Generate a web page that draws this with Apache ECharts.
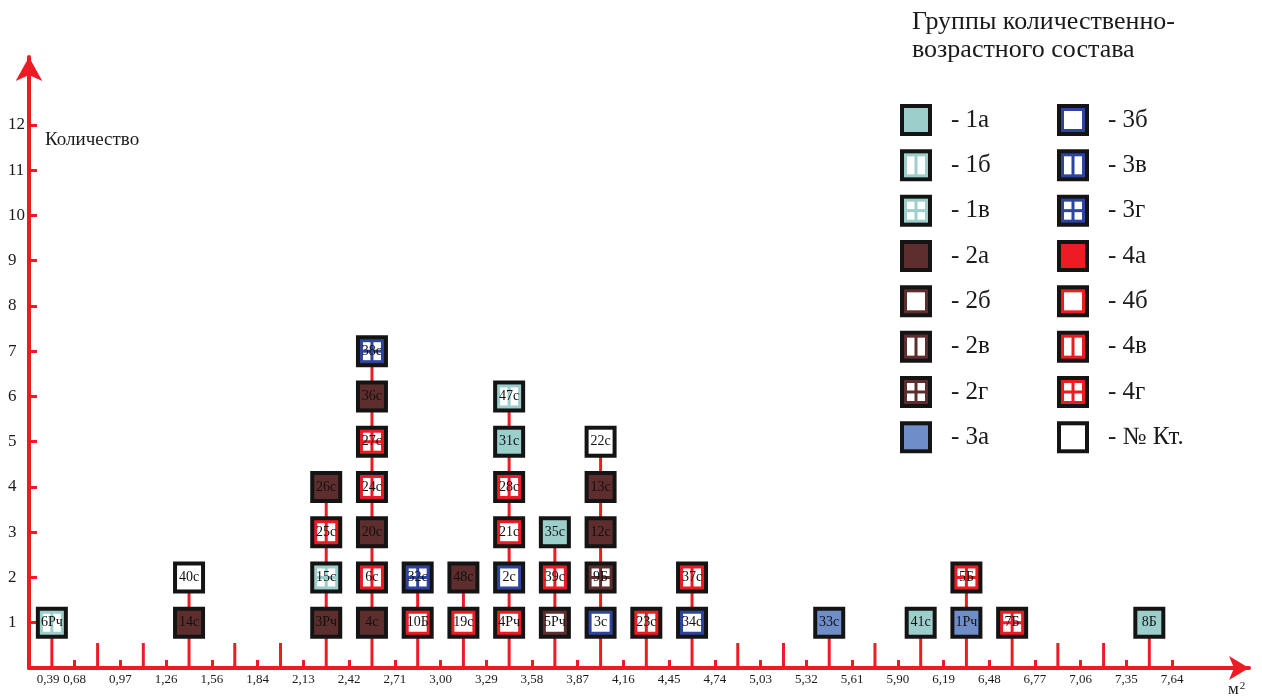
<html style="height: 100%">
<head>
<meta charset="utf-8">
</head>
<body style="height: 100%; margin: 0; background: #fff">
	<div id="container" style="width: 1262px; height: 698px"></div>

	<script src="https://cdn.jsdelivr.net/npm/echarts@6/dist/echarts.min.js"></script>
	<script type="text/javascript">
		var dom = document.getElementById("container");
		var myChart = echarts.init(dom);

		// границы интервалов площади, м2 (подписи оси X)
		var binLabels = ['0,39', '0,68', '0,97', '1,26', '1,56', '1,84', '2,13', '2,42', '2,71',
			'3,00', '3,29', '3,58', '3,87', '4,16', '4,45', '4,74', '5,03', '5,32', '5,61',
			'5,90', '6,19', '6,48', '6,77', '7,06', '7,35', '7,64'];
		// подписи оси Y
		var countTicks = [1, 2, 3, 4, 5, 6, 7, 8, 9, 10, 11, 12];

		// образцы: номер, интервал (индекс), количество, группа
		var sampleNames = ['6Рч',
			'14с', '40с',
			'3Рч', '15с', '25с', '26с',
			'4с', '6с', '20с', '24с', '27с', '36с', '38с',
			'10Б', '32с',
			'19с', '48с',
			'4Рч', '2с', '21с', '28с', '31с', '47с',
			'5Рч', '39с', '35с',
			'3с', '9Б', '12с', '13с', '22с',
			'23с',
			'34с', '37с',
			'33с', '41с', '1Рч', '5Б', '7Б', '8Б'];
		var sampleBins = [0,
			3, 3,
			6, 6, 6, 6,
			7, 7, 7, 7, 7, 7, 7,
			8, 8,
			9, 9,
			10, 10, 10, 10, 10, 10,
			11, 11, 11,
			12, 12, 12, 12, 12,
			13,
			14, 14,
			17, 19, 20, 20, 21, 24];
		var sampleCounts = [1,
			1, 2,
			1, 2, 3, 4,
			1, 2, 3, 4, 5, 6, 7,
			1, 2,
			1, 2,
			1, 2, 3, 4, 5, 6,
			1, 2, 3,
			1, 2, 3, 4, 5,
			1,
			1, 2,
			1, 1, 1, 2, 1, 1];
		var sampleGroups = ['1б',
			'2а', '№ Кт.',
			'2а', '1в', '4в', '2а',
			'2а', '4в', '2а', '4в', '4г', '2а', '3г',
			'4б', '3г',
			'4б', '2а',
			'4б', '3б', '4б', '4в', '1а', '1б',
			'2б', '4в', '1а',
			'3б', '2г', '2а', '2а', '№ Кт.',
			'4в',
			'3б', '4в',
			'3а', '1а', '3а', '4г', '4г', '1а'];

		var legendGroups = ['1а', '1б', '1в', '2а', '2б', '2в', '2г', '3а',
			'3б', '3в', '3г', '4а', '4б', '4в', '4г', '№ Кт.'];

		var RED = '#ed1c24';
		var groupColors = { '1': '#9ccfcb', '2': '#5e2e2e', '3': '#2d45a0', '4': '#ed1c24' };
		var SERIF = '"Liberation Serif", "DejaVu Serif", serif';

		function rect(x, y, w, h, fill) {
			return { type: 'rect', shape: { x: x, y: y, width: w, height: h }, style: { fill: fill } };
		}

		// квадратик с заливкой по группе
		function squareShapes(cx, cy, group) {
			var s = 32, b = 4, f = 3;
			var x0 = cx - s / 2, y0 = cy - s / 2;
			var inner = s - 2 * b;
			var shapes = [rect(x0, y0, s, s, '#141414')];
			if (group === '№ Кт.') {
				shapes.push(rect(x0 + b, y0 + b, inner, inner, '#fff'));
				return shapes;
			}
			var fam = group.charAt(0), kind = group.charAt(1);
			var color = groupColors[fam];
			if (kind === 'а') {
				shapes.push(rect(x0 + b, y0 + b, inner, inner, fam === '3' ? '#6f8ec9' : color));
				return shapes;
			}
			// у первой группы нет варианта с пустой серединой
			var pattern = kind;
			if (fam === '1') pattern = kind === 'б' ? 'в' : 'г';
			shapes.push(rect(x0 + b, y0 + b, inner, inner, color));
			var w = inner - 2 * f;
			var ix = x0 + b + f, iy = y0 + b + f;
			var h = (w - f) / 2;
			if (pattern === 'б') {
				shapes.push(rect(ix, iy, w, w, '#fff'));
			} else if (pattern === 'в') {
				shapes.push(rect(ix, iy, h, w, '#fff'));
				shapes.push(rect(ix + h + f, iy, h, w, '#fff'));
			} else if (pattern === 'г') {
				shapes.push(rect(ix, iy, h, h, '#fff'));
				shapes.push(rect(ix + h + f, iy, h, h, '#fff'));
				shapes.push(rect(ix, iy + h + f, h, h, '#fff'));
				shapes.push(rect(ix + h + f, iy + h + f, h, h, '#fff'));
			}
			return shapes;
		}

		// высота столбика в каждом интервале
		function buildStems() {
			var res = [];
			for (var k = 0; k < binLabels.length - 1; k++) {
				var maxCount = 0;
				for (var i = 0; i < sampleBins.length; i++) {
					if (sampleBins[i] === k && sampleCounts[i] > maxCount) maxCount = sampleCounts[i];
				}
				res.push([k + 0.5, maxCount]);
			}
			return res;
		}
		var stemData = buildStems();

		var squareData = sampleBins.map(function (b, i) { return [b + 0.5, sampleCounts[i]]; });

		var binTicks = [];
		for (var t = 1; t < binLabels.length; t++) binTicks.push(t);

		// легенда
		var legendGraphics = [];
		legendGroups.forEach(function (g, i) {
			var col = Math.floor(i / 8), row = i % 8;
			var cx = 916 + col * 157, cy = 120 + row * 45.33;
			legendGraphics = legendGraphics.concat(squareShapes(cx, cy, g));
			legendGraphics.push({
				type: 'text', x: 951 + col * 157, y: cy,
				style: { text: '- ' + g, fontSize: 25, fontFamily: SERIF, fill: '#1a1a1a', verticalAlign: 'middle' }
			});
		});

		var option = {
			animation: false,
			backgroundColor: '#fff',
			grid: { left: 29, right: 13, top: 57, bottom: 30, outerBoundsMode: 'none' },
			xAxis: {
				type: 'value',
				min: 0,
				max: 26.68,
				interval: 1,
				axisLine: {
					lineStyle: { color: RED, width: 4 },
					symbol: ['none', 'arrow'],
					symbolSize: [18, 20]
				},
				axisTick: {
					inside: true, length: 8, customValues: binTicks,
					lineStyle: { color: RED, width: 3 }
				},
				axisLabel: {
					customValues: [0.42].concat(binTicks),
					margin: 5,
					fontSize: 13,
					fontFamily: SERIF,
					color: '#1a1a1a',
					formatter: function (v) { return binLabels[Math.round(v)]; }
				},
				splitLine: { show: false }
			},
			yAxis: {
				type: 'value',
				min: 0,
				max: 13.5,
				interval: 1,
				axisLine: {
					lineStyle: { color: RED, width: 4 },
					symbol: ['none', 'arrow'],
					symbolSize: [20, 24]
				},
				axisTick: {
					inside: true, length: 8, customValues: countTicks,
					lineStyle: { color: RED, width: 3 }
				},
				axisLabel: {
					customValues: countTicks,
					align: 'left',
					margin: 21,
					fontSize: 17,
					fontFamily: SERIF,
					color: '#1a1a1a'
				},
				splitLine: { show: false }
			},
			graphic: [
				{ type: 'text', x: 912, y: 22, style: { text: 'Группы количественно-', fontSize: 26, fontFamily: SERIF, fill: '#1a1a1a', verticalAlign: 'middle' } },
				{ type: 'text', x: 912, y: 50, style: { text: 'возрастного состава', fontSize: 26, fontFamily: SERIF, fill: '#1a1a1a', verticalAlign: 'middle' } },
				{ type: 'text', x: 45, y: 140, style: { text: 'Количество', fontSize: 19, fontFamily: SERIF, fill: '#1a1a1a', verticalAlign: 'middle' } },
				{ type: 'text', x: 1228, y: 690, style: { text: 'м{sup|2}', fontSize: 17, fontFamily: SERIF, fill: '#1a1a1a', verticalAlign: 'middle',
					rich: { sup: { fontSize: 11, fontFamily: SERIF, fill: '#1a1a1a', verticalAlign: 'top', padding: [0, 0, 8, 1] } } } }
			].concat(legendGraphics),
			series: [
				{
					type: 'custom',
					name: 'stems',
					z: 2,
					silent: true,
					data: stemData,
					renderItem: function (params, api) {
						var p0 = api.coord([api.value(0), 0]);
						var maxCount = api.value(1);
						var y1 = maxCount > 0 ? api.coord([api.value(0), maxCount])[1] : p0[1] - 25;
						return {
							type: 'line',
							shape: { x1: p0[0], y1: p0[1], x2: p0[0], y2: y1 },
							style: { stroke: RED, lineWidth: 3 }
						};
					}
				},
				{
					type: 'custom',
					name: 'samples',
					z: 3,
					silent: true,
					clip: false,
					data: squareData,
					renderItem: function (params, api) {
						var p = api.coord([api.value(0), api.value(1)]);
						var children = squareShapes(p[0], p[1], sampleGroups[params.dataIndex]);
						children.push({
							type: 'text',
							style: {
								text: sampleNames[params.dataIndex], x: p[0], y: p[1],
								align: 'center', verticalAlign: 'middle',
								fontSize: 14, fontFamily: SERIF, fill: '#111'
							}
						});
						return { type: 'group', children: children };
					}
				}
			]
		};

		myChart.setOption(option);
	</script>
</body>
</html>
